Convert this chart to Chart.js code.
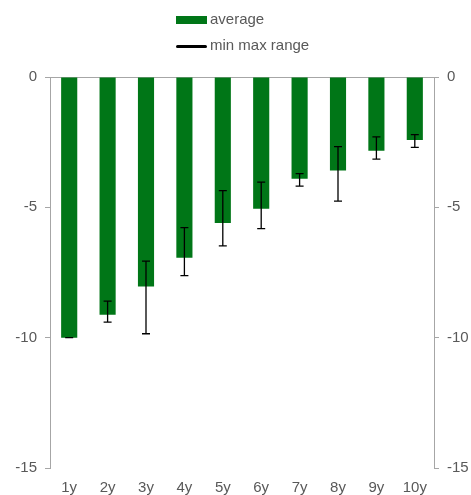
<!DOCTYPE html>
<html>
<head>
<meta charset="utf-8">
<script src="https://cdn.jsdelivr.net/npm/chart.js@4"></script>
<style>
  body { margin: 0; background: #fff; font-family: "Liberation Sans", Arial, sans-serif; }
  #wrap { position: relative; width: 471px; height: 495px; }
  .leg { position: absolute; left: 176px; font-size: 15px; color: #595959; line-height: 16px; white-space: nowrap; }
  .leg span { display: inline-block; vertical-align: middle; margin-right: 3px; }
</style>
</head>
<body>
<div id="wrap">
  <canvas id="grafico" width="471" height="495"></canvas>
  <div class="leg" style="top:11px"><span style="width:31px;height:8px;background:#007617"></span>average</div>
  <div class="leg" style="top:37px"><span style="width:31px;height:3px;background:#000;border-radius:2px"></span>min max range</div>
</div>
<script>
let maturidades = ['1y', '2y', '3y', '4y', '5y', '6y', '7y', '8y', '9y', '10y'];
let media = [-10.0, -9.12, -8.04, -6.93, -5.6, -5.05, -3.9, -3.59, -2.83, -2.42];
let rangeMax = [-10.0, -8.6, -7.06, -5.78, -4.36, -4.03, -3.71, -2.67, -2.30, -2.21];
let rangeMin = [-10.0, -9.4, -9.85, -7.62, -6.48, -5.82, -4.19, -4.76, -3.15, -2.70];

const cinza = '#a6a6a6';
const texto = '#595959';

// desenha as barras de erro (min/max) usando a escala y
const barrasErro = {
    id: 'barrasErro',
    afterDatasetsDraw(chart) {
        const ctx = chart.ctx;
        const meta = chart.getDatasetMeta(0);
        const y = chart.scales.y;
        ctx.save();
        ctx.strokeStyle = '#000';
        ctx.lineWidth = 1.3;
        meta.data.forEach((bar, i) => {
            const yTop = y.getPixelForValue(rangeMax[i]);
            const yBot = y.getPixelForValue(rangeMin[i]);
            ctx.beginPath();
            ctx.moveTo(bar.x, yTop); ctx.lineTo(bar.x, yBot);
            ctx.moveTo(bar.x - 4, yTop); ctx.lineTo(bar.x + 4, yTop);
            ctx.moveTo(bar.x - 4, yBot); ctx.lineTo(bar.x + 4, yBot);
            ctx.stroke();
        });
        ctx.restore();
    }
};

Chart.defaults.font.family = '"Liberation Sans", Arial, sans-serif';
Chart.defaults.font.size = 15;
Chart.defaults.color = texto;

function eixoY(posicao, largura) {
    return {
        position: posicao,
        min: -15,
        max: 0,
        ticks: { stepSize: 5, padding: 8 },
        border: { display: true, color: cinza, width: 1 },
        grid: {
            drawOnChartArea: posicao === 'left',
            color: c => (c.tick && c.tick.value === 0) ? cinza : 'rgba(0,0,0,0)',
            tickColor: cinza,
            tickWidth: 1,
            tickLength: 5,
            lineWidth: 1
        },
        afterFit: escala => { escala.width = largura; }
    };
}

const canvas = document.getElementById('grafico');
const grafico = new Chart(canvas, {
    type: 'bar',
    data: {
        labels: maturidades,
        datasets: [{
            label: 'average',
            data: media,
            backgroundColor: '#007617',
            categoryPercentage: 1,
            barPercentage: 0.42
        }]
    },
    options: {
        responsive: false,
        animation: false,
        layout: { padding: { top: 77, left: 14, right: 3, bottom: 0 } },
        plugins: { legend: { display: false }, tooltip: { enabled: false } },
        scales: {
            x: {
                grid: { display: false, drawTicks: false },
                border: { display: false },
                ticks: { padding: 11 },
                afterFit: escala => { escala.height = 27; }
            },
            y: eixoY('left', 36),
            y2: eixoY('right', 34)
        }
    },
    plugins: [barrasErro]
});
</script>
</body>
</html>
